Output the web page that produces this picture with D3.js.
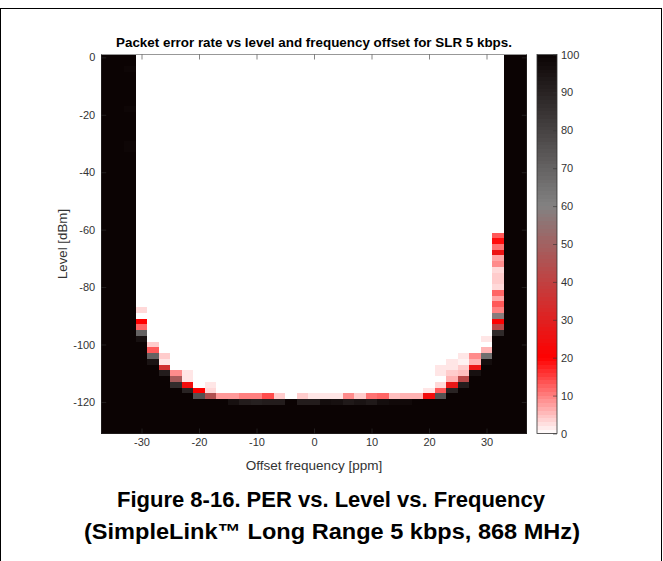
<!DOCTYPE html>
<html>
<head>
<meta charset="utf-8">
<script src="https://d3js.org/d3.v7.min.js"></script>
<style>
  body { margin: 0; background: #fff; }
  svg text { font-family: "Liberation Sans", Arial, Helvetica, sans-serif; }
</style>
</head>
<body>
<div class="chart"></div>
<script>

// offset frequency (ppm), cell centres
const offsets = [-36,-34,-32,-30,-28,-26,-24,-22,-20,-18,-16,-14,-12,-10,-8,-6,-4,-2,0,
                 2,4,6,8,10,12,14,16,18,20,22,24,26,28,30,32,34,36];

// level (dBm), cell centres
const levels = [0,-2,-4,-6,-8,-10,-12,-14,-16,-18,-20,-22,-24,-26,-28,-30,-32,-34,-36,-38,
                -40,-42,-44,-46,-48,-50,-52,-54,-56,-58,-60,-62,-64,-66,-68,-70,-72,-74,-76,-78,
                -80,-82,-84,-86,-88,-90,-92,-94,-96,-98,-100,-102,-104,-106,-108,-110,-112,-114,-116,-118,
                -120,-122,-124,-126,-128,-130];

// packet error rate (%), one row per level, one column per offset
const per = [
  [100,100,100, 0,0,0,0,0,0,0,0, 0,0,0,0,0,0,0,0, 0,0,0,0,0,0,0,0, 0,0,0,0,0,0,0,0, 100,100], // 0
  [100,100,100, 0,0,0,0,0,0,0,0, 0,0,0,0,0,0,0,0, 0,0,0,0,0,0,0,0, 0,0,0,0,0,0,0,0, 100,100], // -2
  [100,100,99,  0,0,0,0,0,0,0,0, 0,0,0,0,0,0,0,0, 0,0,0,0,0,0,0,0, 0,0,0,0,0,0,0,0, 100,100], // -4
  [100,100,100, 0,0,0,0,0,0,0,0, 0,0,0,0,0,0,0,0, 0,0,0,0,0,0,0,0, 0,0,0,0,0,0,0,0, 100,100], // -6
  [100,100,100, 0,0,0,0,0,0,0,0, 0,0,0,0,0,0,0,0, 0,0,0,0,0,0,0,0, 0,0,0,0,0,0,0,0, 100,100], // -8
  [100,100,100, 0,0,0,0,0,0,0,0, 0,0,0,0,0,0,0,0, 0,0,0,0,0,0,0,0, 0,0,0,0,0,0,0,0, 100,100], // -10
  [100,100,100, 0,0,0,0,0,0,0,0, 0,0,0,0,0,0,0,0, 0,0,0,0,0,0,0,0, 0,0,0,0,0,0,0,0, 100,100], // -12
  [100,100,100, 0,0,0,0,0,0,0,0, 0,0,0,0,0,0,0,0, 0,0,0,0,0,0,0,0, 0,0,0,0,0,0,0,0, 100,100], // -14
  [100,100,100, 0,0,0,0,0,0,0,0, 0,0,0,0,0,0,0,0, 0,0,0,0,0,0,0,0, 0,0,0,0,0,0,0,0, 100,100], // -16
  [100,100,99,  0,0,0,0,0,0,0,0, 0,0,0,0,0,0,0,0, 0,0,0,0,0,0,0,0, 0,0,0,0,0,0,0,0, 100,100], // -18
  [100,100,100, 0,0,0,0,0,0,0,0, 0,0,0,0,0,0,0,0, 0,0,0,0,0,0,0,0, 0,0,0,0,0,0,0,0, 100,100], // -20
  [100,100,100, 0,0,0,0,0,0,0,0, 0,0,0,0,0,0,0,0, 0,0,0,0,0,0,0,0, 0,0,0,0,0,0,0,0, 100,100], // -22
  [100,100,100, 0,0,0,0,0,0,0,0, 0,0,0,0,0,0,0,0, 0,0,0,0,0,0,0,0, 0,0,0,0,0,0,0,0, 100,100], // -24
  [100,100,100, 0,0,0,0,0,0,0,0, 0,0,0,0,0,0,0,0, 0,0,0,0,0,0,0,0, 0,0,0,0,0,0,0,0, 100,100], // -26
  [100,100,100, 0,0,0,0,0,0,0,0, 0,0,0,0,0,0,0,0, 0,0,0,0,0,0,0,0, 0,0,0,0,0,0,0,0, 100,100], // -28
  [100,100,99,  0,0,0,0,0,0,0,0, 0,0,0,0,0,0,0,0, 0,0,0,0,0,0,0,0, 0,0,0,0,0,0,0,0, 100,100], // -30
  [100,100,99,  0,0,0,0,0,0,0,0, 0,0,0,0,0,0,0,0, 0,0,0,0,0,0,0,0, 0,0,0,0,0,0,0,0, 100,100], // -32
  [100,100,100, 0,0,0,0,0,0,0,0, 0,0,0,0,0,0,0,0, 0,0,0,0,0,0,0,0, 0,0,0,0,0,0,0,0, 100,100], // -34
  [100,100,100, 0,0,0,0,0,0,0,0, 0,0,0,0,0,0,0,0, 0,0,0,0,0,0,0,0, 0,0,0,0,0,0,0,0, 100,100], // -36
  [100,100,100, 0,0,0,0,0,0,0,0, 0,0,0,0,0,0,0,0, 0,0,0,0,0,0,0,0, 0,0,0,0,0,0,0,0, 100,100], // -38
  [100,100,100, 0,0,0,0,0,0,0,0, 0,0,0,0,0,0,0,0, 0,0,0,0,0,0,0,0, 0,0,0,0,0,0,0,0, 100,100], // -40
  [100,100,100, 0,0,0,0,0,0,0,0, 0,0,0,0,0,0,0,0, 0,0,0,0,0,0,0,0, 0,0,0,0,0,0,0,0, 100,100], // -42
  [100,100,100, 0,0,0,0,0,0,0,0, 0,0,0,0,0,0,0,0, 0,0,0,0,0,0,0,0, 0,0,0,0,0,0,0,0, 100,100], // -44
  [100,100,100, 0,0,0,0,0,0,0,0, 0,0,0,0,0,0,0,0, 0,0,0,0,0,0,0,0, 0,0,0,0,0,0,0,0, 100,100], // -46
  [100,100,100, 0,0,0,0,0,0,0,0, 0,0,0,0,0,0,0,0, 0,0,0,0,0,0,0,0, 0,0,0,0,0,0,0,0, 100,100], // -48
  [100,100,100, 0,0,0,0,0,0,0,0, 0,0,0,0,0,0,0,0, 0,0,0,0,0,0,0,0, 0,0,0,0,0,0,0,0, 100,100], // -50
  [100,100,100, 0,0,0,0,0,0,0,0, 0,0,0,0,0,0,0,0, 0,0,0,0,0,0,0,0, 0,0,0,0,0,0,0,0, 100,100], // -52
  [100,100,100, 0,0,0,0,0,0,0,0, 0,0,0,0,0,0,0,0, 0,0,0,0,0,0,0,0, 0,0,0,0,0,0,0,0, 100,100], // -54
  [100,100,100, 0,0,0,0,0,0,0,0, 0,0,0,0,0,0,0,0, 0,0,0,0,0,0,0,0, 0,0,0,0,0,0,0,0, 100,100], // -56
  [100,100,100, 0,0,0,0,0,0,0,0, 0,0,0,0,0,0,0,0, 0,0,0,0,0,0,0,0, 0,0,0,0,0,0,0,0, 100,100], // -58
  [100,100,100, 0,0,0,0,0,0,0,0, 0,0,0,0,0,0,0,0, 0,0,0,0,0,0,0,0, 0,0,0,0,0,0,0,0, 100,100], // -60
  [100,100,100, 0,0,0,0,0,0,0,0, 0,0,0,0,0,0,0,0, 0,0,0,0,0,0,0,0, 0,0,0,0,0,0,0,13, 100,100], // -62
  [100,100,100, 0,0,0,0,0,0,0,0, 0,0,0,0,0,0,0,0, 0,0,0,0,0,0,0,0, 0,0,0,0,0,0,0,19, 100,100], // -64
  [100,100,100, 0,0,0,0,0,0,0,0, 0,0,0,0,0,0,0,0, 0,0,0,0,0,0,0,0, 0,0,0,0,0,0,0,11, 100,100], // -66
  [100,100,100, 0,0,0,0,0,0,0,0, 0,0,0,0,0,0,0,0, 0,0,0,0,0,0,0,0, 0,0,0,0,0,0,0,26, 100,100], // -68
  [100,100,100, 0,0,0,0,0,0,0,0, 0,0,0,0,0,0,0,0, 0,0,0,0,0,0,0,0, 0,0,0,0,0,0,0,7,  100,100], // -70
  [100,100,100, 0,0,0,0,0,0,0,0, 0,0,0,0,0,0,0,0, 0,0,0,0,0,0,0,0, 0,0,0,0,0,0,0,9,  100,100], // -72
  [100,100,100, 0,0,0,0,0,0,0,0, 0,0,0,0,0,0,0,0, 0,0,0,0,0,0,0,0, 0,0,0,0,0,0,0,3,  100,100], // -74
  [100,100,100, 0,0,0,0,0,0,0,0, 0,0,0,0,0,0,0,0, 0,0,0,0,0,0,0,0, 0,0,0,0,0,0,0,4,  100,100], // -76
  [100,100,100, 0,0,0,0,0,0,0,0, 0,0,0,0,0,0,0,0, 0,0,0,0,0,0,0,0, 0,0,0,0,0,0,0,4,  100,100], // -78
  [100,100,100, 0,0,0,0,0,0,0,0, 0,0,0,0,0,0,0,0, 0,0,0,0,0,0,0,0, 0,0,0,0,0,0,0,3,  100,100], // -80
  [100,100,100, 0,0,0,0,0,0,0,0, 0,0,0,0,0,0,0,0, 0,0,0,0,0,0,0,0, 0,0,0,0,0,0,0,12, 100,100], // -82
  [100,100,100, 0,0,0,0,0,0,0,0, 0,0,0,0,0,0,0,0, 0,0,0,0,0,0,0,0, 0,0,0,0,0,0,0,7,  100,100], // -84
  [100,100,100, 0,0,0,0,0,0,0,0, 0,0,0,0,0,0,0,0, 0,0,0,0,0,0,0,0, 0,0,0,0,0,0,0,13, 100,100], // -86
  [100,100,100, 3,0,0,0,0,0,0,0, 0,0,0,0,0,0,0,0, 0,0,0,0,0,0,0,0, 0,0,0,0,0,0,0,10, 100,100], // -88
  [100,100,100, 0,0,0,0,0,0,0,0, 0,0,0,0,0,0,0,0, 0,0,0,0,0,0,0,0, 0,0,0,0,0,0,0,58, 100,100], // -90
  [100,100,100, 20,0,0,0,0,0,0,0, 0,0,0,0,0,0,0,0, 0,0,0,0,0,0,0,0, 0,0,0,0,0,0,0,21, 100,100], // -92
  [100,100,100, 12,0,0,0,0,0,0,0, 0,0,0,0,0,0,0,0, 0,0,0,0,0,0,0,0, 0,0,0,0,0,0,0,42, 100,100], // -94
  [100,100,100, 70,0,0,0,0,0,0,0, 0,0,0,0,0,0,0,0, 0,0,0,0,0,0,0,0, 0,0,0,0,0,0,0,88, 100,100], // -96
  [100,100,100, 96,0,0,0,0,0,0,0, 0,0,0,0,0,0,0,0, 0,0,0,0,0,0,0,0, 0,0,0,0,0,0,2,100, 100,100], // -98
  [100,100,100, 100,4,0,0,0,0,0,0, 0,0,0,0,0,0,0,0, 0,0,0,0,0,0,0,0, 0,0,0,0,0,0,0,100, 100,100], // -100
  [100,100,100, 100,13,0,0,0,0,0,0, 0,0,0,0,0,0,0,0, 0,0,0,0,0,0,0,0, 0,0,0,0,0,0,6,100, 100,100], // -102
  [100,100,100, 100,70,4,0,0,0,0,0, 0,0,0,0,0,0,0,0, 0,0,0,0,0,0,0,0, 0,0,0,0,2,9,66,100, 100,100], // -104
  [100,100,100, 100,95,2,0,0,0,0,0, 0,0,0,0,0,0,0,0, 0,0,0,0,0,0,0,0, 0,0,0,2,1,6,97,100, 100,100], // -106
  [100,100,100, 100,100,35,0,0,0,0,0, 0,0,0,0,0,0,0,0, 0,0,0,0,0,0,0,0, 0,0,2,2,4,26,100,100, 100,100], // -108
  [100,100,100, 100,100,92,9,2,0,0,0, 0,0,0,0,0,0,0,0, 0,0,0,0,0,0,0,0, 0,0,2,4,5,96,100,100, 100,100], // -110
  [100,100,100, 100,100,100,48,2,0,0,0, 0,0,0,0,0,0,0,0, 0,0,0,0,0,0,0,0, 0,0,0,6,42,100,100,100, 100,100], // -112
  [100,100,100, 100,100,100,87,24,0,2,0, 0,0,0,0,0,0,0,0, 0,0,0,0,0,0,0,0, 0,0,3,27,92,100,100,100, 100,100], // -114
  [100,100,100, 100,100,100,100,90,20,3,0, 0,0,0,0,0,0,0,0, 0,0,0,0,0,0,0,0, 0,2,13,90,100,100,100,100, 100,100], // -116
  [100,100,100, 100,100,100,100,100,75,45,8, 8,10,10,14,4,0,4,2, 2,2,9,4,11,12,5,6, 6,24,75,100,100,100,100,100, 100,100], // -118
  [100,100,100, 100,100,100,100,100,100,100,100, 96,92,91,92,92,100,92,92, 97,96,93,95,93,97,98,98, 100,100,100,100,100,100,100,100, 100,100], // -120
  [100,100,100, 100,100,100,100,100,100,100,100, 100,100,100,100,100,100,100,100, 100,100,100,100,100,100,100,100, 100,100,100,100,100,100,100,100, 100,100], // -122
  [100,100,100, 100,100,100,100,100,100,100,100, 100,100,100,100,100,100,100,100, 100,100,100,100,100,100,100,100, 100,100,100,100,100,100,100,100, 100,100], // -124
  [100,100,100, 100,100,100,100,100,100,100,100, 100,100,100,100,100,100,100,100, 100,100,100,100,100,100,100,100, 100,100,100,100,100,100,100,100, 100,100], // -126
  [100,100,100, 100,100,100,100,100,100,100,100, 100,100,100,100,100,100,100,100, 100,100,100,100,100,100,100,100, 100,100,100,100,100,100,100,100, 100,100], // -128
  [100,100,100, 100,100,100,100,100,100,100,100, 100,100,100,100,100,100,100,100, 100,100,100,100,100,100,100,100, 100,100,100,100,100,100,100,100, 100,100]  // -130
];

const xTicks = [-30, -20, -10, 0, 10, 20, 30];
const yTicks = [0, -20, -40, -60, -80, -100, -120];
const barTicks = [0, 10, 20, 30, 40, 50, 60, 70, 80, 90, 100];
const barSteps = [0,1,2,3,4,5,6,7,8,9,10,11,12,13,14,15,16,17,18,19,20,21,22,23,24,25,26,27,28,29,
                  30,31,32,33,34,35,36,37,38,39,40,41,42,43,44,45,46,47,48,49,50,51,52,53,54,55,56,57,58,59,
                  60,61,62,63,64,65,66,67,68,69,70,71,72,73,74,75,76,77,78,79,80,81,82,83,84,85,86,87,88,89,
                  90,91,92,93,94,95,96,97,98,99];

const width = 663;
const height = 561;
const axisColor = "#333333";

const svg = d3.select(".chart")
    .append("svg")
    .attr("width", width)
    .attr("height", height);

// page frame
svg.append("rect")
    .attr("x", 0.5).attr("y", 8.5)
    .attr("width", 661).attr("height", 600)
    .attr("fill", "none")
    .attr("stroke", "#000")
    .attr("stroke-width", 1);

const x = d3.scaleLinear().domain([-37, 37]).range([101.25, 526.75]);
const y = d3.scaleLinear().domain([1, -131]).range([54.5, 433.5]);

const color = d3.scaleLinear()
    .domain([0, 20, 60, 100])
    .range(["#ffffff", "#ff0000", "#828282", "#0b0303"])
    .clamp(true);

// heatmap cells
const cells = [];
levels.forEach((lev, i) => {
    offsets.forEach((off, j) => {
        cells.push({ off: off, lev: lev, v: per[i][j] });
    });
});

svg.append("g")
    .attr("shape-rendering", "crispEdges")
    .selectAll("rect")
    .data(cells)
    .enter()
    .append("rect")
    .attr("x", d => x(d.off - 1))
    .attr("y", d => y(d.lev + 1))
    .attr("width", d => x(d.off + 1) - x(d.off - 1))
    .attr("height", d => y(d.lev - 1) - y(d.lev + 1))
    .attr("fill", d => color(d.v));

// axes, ticks pointing inward
const plain = d => String(d);

function styleAxis(g) {
    g.select(".domain").remove();
    g.selectAll(".tick line").attr("stroke", axisColor).attr("stroke-width", 0.6);
    g.selectAll(".tick text").attr("fill", axisColor).attr("font-size", 11);
}

svg.append("g")
    .attr("transform", `translate(0,${y(-131)})`)
    .call(d3.axisBottom(x).tickValues(xTicks).tickFormat(plain).tickSizeInner(-5).tickSizeOuter(0).tickPadding(5))
    .call(styleAxis);

svg.append("g")
    .attr("transform", `translate(0,${y(1)})`)
    .call(d3.axisTop(x).tickValues(xTicks).tickSizeInner(-5).tickSizeOuter(0).tickFormat(""))
    .call(styleAxis);

svg.append("g")
    .attr("transform", `translate(${x(-37)},0)`)
    .call(d3.axisLeft(y).tickValues(yTicks).tickFormat(plain).tickSizeInner(-5).tickSizeOuter(0).tickPadding(6))
    .call(styleAxis);

svg.append("g")
    .attr("transform", `translate(${x(37)},0)`)
    .call(d3.axisRight(y).tickValues(yTicks).tickSizeInner(-5).tickSizeOuter(0).tickFormat(""))
    .call(styleAxis);

svg.append("rect")
    .attr("x", x(-37)).attr("y", y(1))
    .attr("width", x(37) - x(-37)).attr("height", y(-131) - y(1))
    .attr("fill", "none")
    .attr("stroke", axisColor)
    .attr("stroke-width", 0.5);

// title and axis labels
svg.append("text")
    .attr("x", 314).attr("y", 47)
    .attr("text-anchor", "middle")
    .attr("font-size", 13.4)
    .attr("font-weight", "bold")
    .attr("fill", "#000")
    .text("Packet error rate vs level and frequency offset for SLR 5 kbps.");

svg.append("text")
    .attr("x", 314).attr("y", 470)
    .attr("text-anchor", "middle")
    .attr("font-size", 13.5)
    .attr("fill", axisColor)
    .text("Offset frequency [ppm]");

svg.append("text")
    .attr("transform", `translate(67,${(y(1) + y(-131)) / 2}) rotate(-90)`)
    .attr("text-anchor", "middle")
    .attr("font-size", 13.3)
    .attr("fill", axisColor)
    .text("Level [dBm]");

// colorbar
const cbX = 537, cbW = 20;
const cy = d3.scaleLinear().domain([0, 100]).range([y(-131), y(1)]);

svg.append("g")
    .attr("shape-rendering", "crispEdges")
    .selectAll("rect")
    .data(barSteps)
    .enter()
    .append("rect")
    .attr("x", cbX)
    .attr("y", d => cy(d + 1))
    .attr("width", cbW)
    .attr("height", d => cy(d) - cy(d + 1))
    .attr("fill", d => color(d + 0.5));

svg.append("rect")
    .attr("x", cbX).attr("y", cy(100))
    .attr("width", cbW).attr("height", cy(0) - cy(100))
    .attr("fill", "none")
    .attr("stroke", axisColor)
    .attr("stroke-width", 0.8);

svg.append("g")
    .attr("transform", `translate(${cbX + cbW},0)`)
    .call(d3.axisRight(cy).tickValues(barTicks).tickFormat(plain).tickSizeInner(-4).tickSizeOuter(0).tickPadding(4))
    .call(styleAxis);

// figure caption
svg.append("text")
    .attr("x", 331).attr("y", 507)
    .attr("text-anchor", "middle")
    .attr("font-size", 22)
    .attr("font-weight", "bold")
    .attr("fill", "#000")
    .text("Figure 8-16. PER vs. Level vs. Frequency");

svg.append("text")
    .attr("x", 332).attr("y", 539)
    .attr("text-anchor", "middle")
    .attr("font-size", 22)
    .attr("font-weight", "bold")
    .attr("fill", "#000")
    .attr("textLength", 496)
    .attr("lengthAdjust", "spacingAndGlyphs")
    .text("(SimpleLink\u2122 Long Range 5 kbps, 868 MHz)");

</script>
</body>
</html>
